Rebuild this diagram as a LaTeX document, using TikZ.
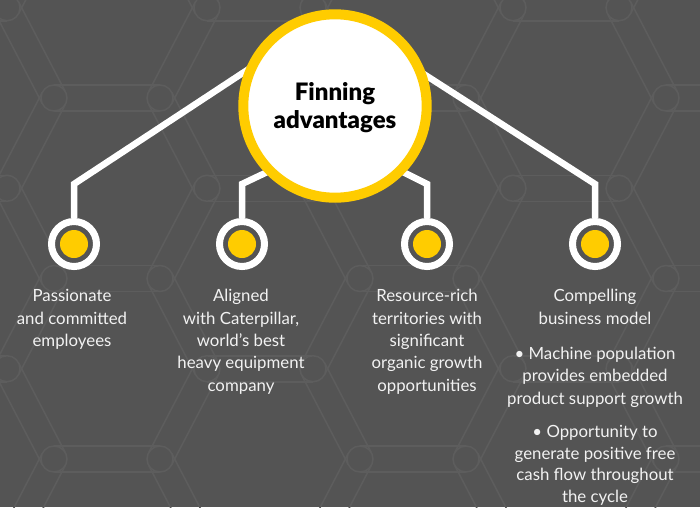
\documentclass[tikz,border=0pt]{standalone}
\usepackage{fontspec}
\setmainfont{Lato}
\newfontfamily\hubfont{Lato Black}
\usetikzlibrary{calc}
\definecolor{bg}{HTML}{545454}
\definecolor{patc}{HTML}{5D5D5D}
\definecolor{catyellow}{HTML}{FFCC00}
\definecolor{txt}{HTML}{F2F2F2}
\newcommand\patband[4]{%
  \draw[patline] ($(#1,#2)!13pt!90:(#3,#4)$) -- ($(#3,#4)!13pt!-90:(#1,#2)$);
  \draw[patline] ($(#1,#2)!13pt!-90:(#3,#4)$) -- ($(#3,#4)!13pt!90:(#1,#2)$);}
\tikzset{
  patline/.style={draw=patc, line width=1.5pt},
  patjoint/.style={draw=patc, line width=1.5pt, fill=bg},
  conn/.style={draw=white, line width=6.5pt, line join=miter},
  dotring/.style={circle, draw=white, line width=7pt, fill=bg, minimum size=45pt, inner sep=0pt},
  dotfill/.style={fill=catyellow},
  hub/.style={circle, draw=catyellow, line width=10pt, fill=white, minimum size=183.4pt, inner sep=0pt},
  hubtxt/.style={text=black, font=\fontsize{24}{27.5}\selectfont\hubfont, inner sep=0pt, anchor=base},
  lbl/.style={text=txt, font=\fontsize{16.8}{22}\selectfont, inner sep=0pt, anchor=base},
}
\begin{document}
\begin{tikzpicture}[x=1pt,y=-1pt]
\useasboundingbox (0,0) rectangle (700,507);
\fill[bg] (0,0) rectangle (700,507);
% background honeycomb pattern
\begin{scope}
\clip (0,0) rectangle (700,507);
\foreach \n in {-1,0,1,2} {
  \foreach \k in {-2,0,2,4,6} {
    \pgfmathsetmacro\yy{98+90.25*\k}
    \pgfmathsetmacro\yu{\yy-90.25}
    \pgfmathsetmacro\yd{\yy+90.25}
    \pgfmathsetmacro\ax{54+306*\n}
    \pgfmathsetmacro\bx{160+306*\n}
    \pgfmathsetmacro\cx{207+306*\n}
    \pgfmathsetmacro\xd{7+306*\n}
    \patband{\ax}{\yy}{\bx}{\yy}
    \patband{\bx}{\yy}{\cx}{\yu}
    \patband{\bx}{\yy}{\cx}{\yd}
    \patband{\ax}{\yy}{\xd}{\yu}
    \patband{\ax}{\yy}{\xd}{\yd}
  }
  \foreach \k in {-1,1,3,5} {
    \pgfmathsetmacro\yy{98+90.25*\k}
    \pgfmathsetmacro\cx{207+306*\n}
    \pgfmathsetmacro\ex{313+306*\n}
    \patband{\cx}{\yy}{\ex}{\yy}
  }
}
\foreach \n in {-1,0,1,2} {
  \foreach \k in {-2,0,2,4,6} {
    \pgfmathsetmacro\yy{98+90.25*\k}
    \filldraw[patjoint] (54+306*\n,\yy) circle (13pt);
    \filldraw[patjoint] (160+306*\n,\yy) circle (13pt);
  }
  \foreach \k in {-1,1,3,5} {
    \pgfmathsetmacro\yy{98+90.25*\k}
    \filldraw[patjoint] (207+306*\n,\yy) circle (13pt);
    \filldraw[patjoint] (313+306*\n,\yy) circle (13pt);
  }
}
\end{scope}
% dots
\node[dotring] (d1) at (74,244) {};
\node[dotring] (d2) at (242,244) {};
\node[dotring] (d3) at (427,244) {};
\node[dotring] (d4) at (595,244) {};
\foreach \i in {1,2,3,4} \fill[dotfill] (d\i.center) circle (14pt);
% connectors
\coordinate (k1) at (74,184);  \coordinate (e1) at (264,59);
\coordinate (k2) at (242,184); \coordinate (e2) at (282,165);
\coordinate (k3) at (427,184); \coordinate (e3) at (387,164);
\coordinate (k4) at (595,184); \coordinate (e4) at (405,62);
\foreach \i in {1,2,3,4} \draw[conn] (d\i.north) -- (k\i) -- (e\i);
% hub
\node[hub] (hub) at (335,106) {};
\node[hubtxt] (h1) at (335,100.7) {Finning};
\node[hubtxt] (h2) at (335,128.2) {advantages};
% labels
\foreach \t [count=\i] in {Passionate,and committed,employees}
  \node[lbl] (a\i) at (72,301.7+22.4*\i-22.4) {\t};
\foreach \t [count=\i] in {Aligned,{with Caterpillar,},world’s best,heavy equipment,company}
  \node[lbl] (b\i) at (241,301.7+22.4*\i-22.4) {\t};
\foreach \t [count=\i] in {Resource-rich,territories with,significant,organic growth,opportunities}
  \node[lbl] (c\i) at (427,301.7+22.4*\i-22.4) {\t};
\foreach \t [count=\i] in {Compelling,business model}
  \node[lbl] (p\i) at (595,301.7+22.4*\i-22.4) {\t};
\foreach \t [count=\i] in {• Machine population,provides embedded,product support growth}
  \node[lbl] (q\i) at (595,359+22.8*\i-22.8) {\t};
\foreach \t [count=\i] in {• Opportunity to,generate positive free,cash flow throughout,the cycle}
  \node[lbl] (r\i) at (595,437.5+21.6*\i-21.6) {\t};
\end{tikzpicture}
\end{document}
